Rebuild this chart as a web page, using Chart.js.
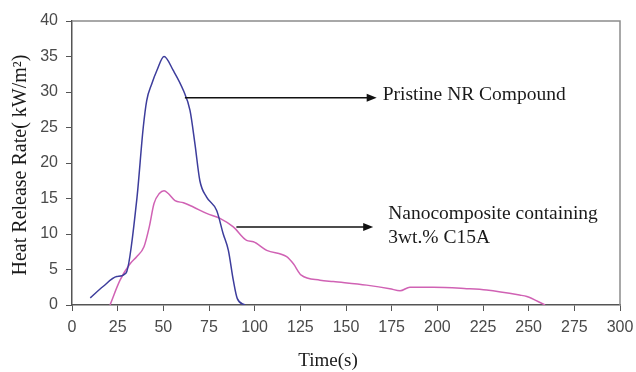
<!DOCTYPE html>
<html>
<head>
<meta charset="utf-8">
<script src="https://cdn.jsdelivr.net/npm/chart.js@4/dist/chart.umd.min.js"></script>
<style>
  html, body { margin: 0; padding: 0; background: #fff; }
  #wrap { width: 636px; height: 372px; }
</style>
</head>
<body>
<div id="wrap"><canvas id="c" width="636" height="372"></canvas></div>
<script>
// Heat release rate curves (time s, HRR kW/m2)
const pristineT = [10, 17, 24.5, 29.6, 35.4, 39, 40.9, 43.6, 46.4, 50.4, 55.5, 61, 64.6, 67.3, 70, 73.7, 79.2, 82.8, 85.6, 88.3, 90.5, 94.7];
const pristineV = [1, 2.6, 4.0, 4.5, 14.7, 25, 28.8, 31.1, 33, 35, 33, 30.2, 27.4, 22.7, 17.5, 15.2, 13.3, 10, 7.7, 3.5, 0.9, 0];
const nanoT = [20.8, 26.3, 31.8, 35.4, 39.4, 42.3, 44.9, 47.8, 50.4, 52.7, 56.4, 61, 66.4, 73.7, 81, 88.3, 95.6, 99.3, 106.6, 117.5, 121.2, 125.5, 135.8, 143, 161.3, 174, 179.6, 185, 197.8, 216, 227, 245, 249, 259];
const nanoV = [0, 3.5, 5.8, 6.8, 8.2, 11, 14.3, 15.7, 16.1, 15.7, 14.7, 14.4, 13.8, 12.9, 12.2, 11, 9.1, 8.9, 7.7, 6.8, 5.8, 4.2, 3.5, 3.3, 2.8, 2.3, 2.0, 2.5, 2.5, 2.3, 2.1, 1.4, 1.2, 0];
const xTicks = [0, 25, 50, 75, 100, 125, 150, 175, 200, 225, 250, 275, 300];
const yTicks = [0, 5, 10, 15, 20, 25, 30, 35, 40];

// annotation arrows: [fromX, toX, y] in data units, plus label lines
const labelPristine = ["Pristine NR Compound"];
const arrowPristine = [61.8, 166.8, 29.2];
const labelNano = ["Nanocomposite containing", "3wt.% C15A"];
const arrowNano = [90, 164.9, 11];

const pts = (t, v) => t.map((x, i) => ({ x, y: v[i] }));
const serif = "'Liberation Serif', 'Times New Roman', serif";

const annot = {
  id: "annot",
  afterDraw(chart) {
    const { ctx, chartArea: a, scales: { x, y } } = chart;
    ctx.save();
    // top / right frame
    ctx.strokeStyle = "#8c8c8c";
    ctx.lineWidth = 1.5;
    ctx.beginPath();
    ctx.moveTo(a.left, a.top); ctx.lineTo(a.right, a.top); ctx.lineTo(a.right, a.bottom);
    ctx.stroke();

    function arrow(spec, lines, gap) {
      const x0 = x.getPixelForValue(spec[0]), x1 = x.getPixelForValue(spec[1]), yy = y.getPixelForValue(spec[2]);
      ctx.strokeStyle = "#111"; ctx.fillStyle = "#111"; ctx.lineWidth = 1.5;
      ctx.beginPath(); ctx.moveTo(x0, yy); ctx.lineTo(x1 - 8, yy); ctx.stroke();
      ctx.beginPath(); ctx.moveTo(x1, yy); ctx.lineTo(x1 - 10, yy - 4); ctx.lineTo(x1 - 10, yy + 4); ctx.closePath(); ctx.fill();
      ctx.font = "19.5px " + serif;
      ctx.textBaseline = "middle"; ctx.textAlign = "left";
      ctx.fillStyle = "#1a1a1a";
      const top = lines.length > 1 ? yy - 13 : yy - 3;
      lines.forEach((s, i) => ctx.fillText(s, x1 + gap, top + i * 23.5));
    }
    arrow(arrowPristine, labelPristine, 6);
    arrow(arrowNano, labelNano, 15);

    // axis titles
    ctx.fillStyle = "#1a1a1a";
    ctx.textAlign = "center"; ctx.textBaseline = "middle";
    ctx.font = "19px " + serif;
    ctx.fillText("Time(s)", 328, 361);
    ctx.font = "20px " + serif;
    ctx.translate(21, 165);
    ctx.rotate(-Math.PI / 2);
    ctx.fillText("Heat Release Rate( kW/m\u00b2)", 0, 0);
    ctx.restore();
  }
};

const tickFont = { family: "'Liberation Sans', Arial, sans-serif", size: 16 };

new Chart(document.getElementById("c"), {
  type: "line",
  data: {
    datasets: [
      { label: "Pristine NR Compound", data: pts(pristineT, pristineV), borderColor: "#3d3d9c", borderWidth: 1.5, pointRadius: 0, cubicInterpolationMode: "monotone", fill: false },
      { label: "Nanocomposite containing 3wt.% C15A", data: pts(nanoT, nanoV), borderColor: "#d062b4", borderWidth: 1.5, pointRadius: 0, cubicInterpolationMode: "monotone", fill: false }
    ]
  },
  options: {
    responsive: false,
    animation: false,
    layout: { padding: { top: 21, right: 16, left: 0, bottom: 0 } },
    plugins: { legend: { display: false }, tooltip: { enabled: false } },
    scales: {
      x: {
        type: "linear", min: 0, max: 300,
        afterBuildTicks: s => { s.ticks = xTicks.map(v => ({ value: v })); },
        afterFit: s => { s.height = 67; s.paddingLeft = 0; s.paddingRight = 0; },
        ticks: { font: tickFont, color: "#4a4a4a", padding: 7, maxRotation: 0 },
        grid: { drawOnChartArea: false, tickLength: 6, color: "#555" },
        border: { color: "#555", width: 1.5 }
      },
      y: {
        min: 0, max: 40,
        afterBuildTicks: s => { s.ticks = yTicks.map(v => ({ value: v })); },
        afterFit: s => { s.width = 72; s.paddingTop = 0; s.paddingBottom = 0; },
        ticks: { font: tickFont, color: "#4a4a4a", padding: 8 },
        grid: { drawOnChartArea: false, tickLength: 6, color: "#555" },
        border: { color: "#555", width: 1.5 }
      }
    }
  },
  plugins: [annot]
});
</script>
</body>
</html>
